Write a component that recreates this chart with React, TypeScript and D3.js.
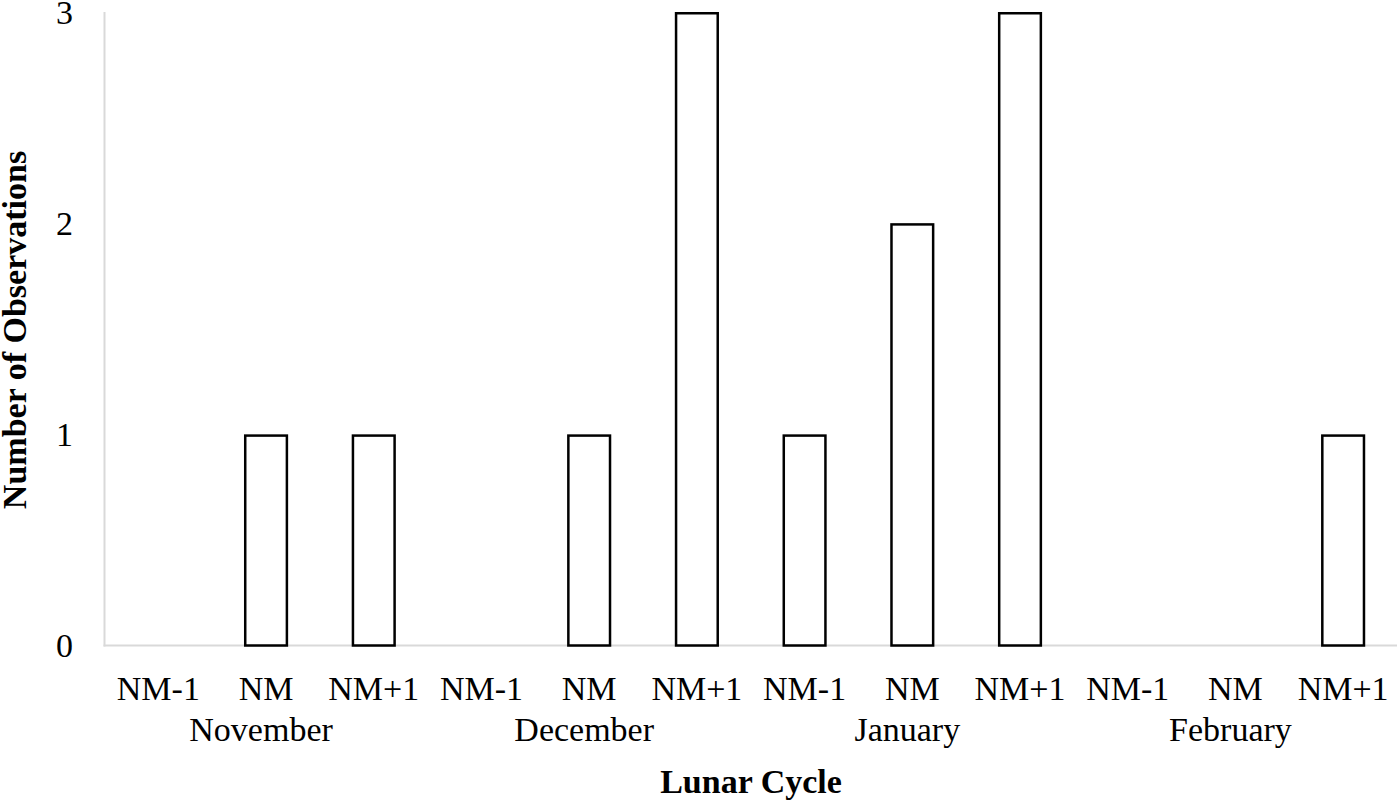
import React from "react";
import * as d3 from "d3";

const months = ["November", "December", "January", "February"];
const phases = ["NM-1", "NM", "NM+1"];
const counts = [0, 1, 1, 0, 1, 3, 1, 2, 3, 0, 0, 1];
const yTicks = [0, 1, 2, 3];

const W = 1400;
const H = 804;
const FONT = "'Liberation Serif', 'Times New Roman', serif";

export default function App() {
  const cats = months.flatMap((m) => phases.map((p) => `${m}|${p}`));
  const x = d3
    .scaleBand<string>()
    .domain(cats)
    .range([104.5, 1397])
    .paddingInner(0.59)
    .paddingOuter(0.295);
  const y = d3.scaleLinear().domain([0, 3]).range([645.5, 12]);
  const bw = x.bandwidth();
  const sw = 2.5;

  return (
    <svg
      width={W}
      height={H}
      style={{ position: "absolute", left: 0, top: 0, background: "#fff" }}
      fontFamily={FONT}
    >
      <rect x={0} y={0} width={W} height={H} fill="#fff" />
      {/* axes */}
      <line x1={104.5} x2={104.5} y1={12} y2={646.5} stroke="#d9d9d9" strokeWidth={2} />
      <line x1={103.5} x2={1397} y1={645.5} y2={645.5} stroke="#d9d9d9" strokeWidth={2} />
      {/* y ticks */}
      {yTicks.map((t) => (
        <text
          key={t}
          x={73}
          y={y(t)}
          dy="0.35em"
          textAnchor="end"
          fontSize={34}
          fill="#000"
        >
          {t}
        </text>
      ))}
      {/* bars */}
      {cats.map((c, i) =>
        counts[i] > 0 ? (
          <rect
            key={c}
            x={(x(c) as number) + sw / 2}
            y={y(counts[i]) + sw / 2}
            width={bw - sw}
            height={y(0) - y(counts[i]) - sw / 2}
            fill="#fff"
            stroke="#000"
            strokeWidth={sw}
          />
        ) : null
      )}
      {/* phase labels */}
      {cats.map((c) => (
        <text
          key={"l" + c}
          x={(x(c) as number) + bw / 2}
          y={700}
          textAnchor="middle"
          fontSize={34}
          fill="#000"
        >
          {c.split("|")[1]}
        </text>
      ))}
      {/* month labels */}
      {months.map((m) => {
        const mid = `${m}|${phases[1]}`;
        return (
          <text
            key={m}
            x={(x(mid) as number) + bw / 2 - 5}
            y={741}
            textAnchor="middle"
            fontSize={34}
            fill="#000"
          >
            {m}
          </text>
        );
      })}
      {/* axis titles */}
      <text
        x={751}
        y={793}
        textAnchor="middle"
        fontSize={34}
        fontWeight="bold"
        fill="#000"
      >
        Lunar Cycle
      </text>
      <text
        transform={`translate(26, 330) rotate(-90)`}
        textAnchor="middle"
        fontSize={34}
        fontWeight="bold"
        fill="#000"
      >
        Number of Observations
      </text>
    </svg>
  );
}
